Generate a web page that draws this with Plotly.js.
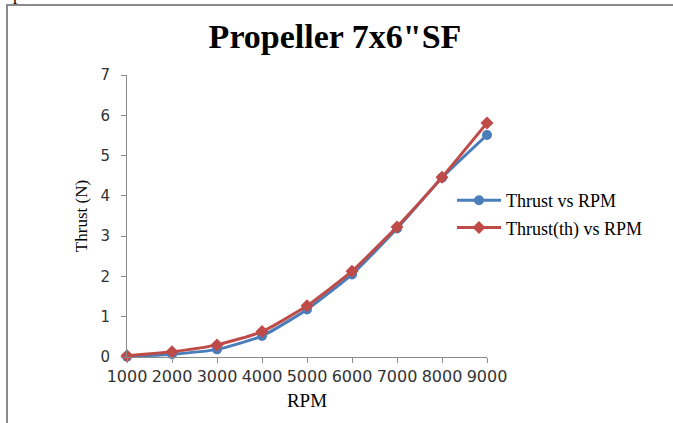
<!DOCTYPE html>
<html>
<head>
<meta charset="utf-8">
<script src="https://cdn.plot.ly/plotly-3.0.1.min.js"></script>
<style>
  html, body { margin: 0; padding: 0; background: #fff; }
  #chart { width: 673px; height: 423px; position: absolute; left: 0; top: 0; }
  #frame { position: absolute; left: 6px; top: 4px; width: 700px; height: 450px;
           border-left: 2px solid #8a8a8a; border-top: 2px solid #8a8a8a; pointer-events: none; }
  #pglyph { position: absolute; left: 13px; top: -15px; font: 17px "Liberation Serif", serif; color: #000; }
</style>
</head>
<body>
<div id="chart"></div>
<div id="frame"></div>
<div id="pglyph">p</div>
<script>
const rpm = [1000, 2000, 3000, 4000, 5000, 6000, 7000, 8000, 9000];
const xTickLabels = ["1000", "2000", "3000", "4000", "5000", "6000", "7000", "8000", "9000"];
const thrustMeasured = [0.01, 0.07, 0.19, 0.52, 1.18, 2.05, 3.19, 4.45, 5.51];
const thrustTheory = [0.03, 0.13, 0.30, 0.63, 1.27, 2.13, 3.23, 4.46, 5.81];
const yTicks = [0, 1, 2, 3, 4, 5, 6, 7];

const traces = [
  {
    x: rpm, y: thrustMeasured, name: "Thrust vs RPM", type: "scatter", mode: "lines+markers",
    line: { color: "#4A7EBB", width: 3, shape: "spline", smoothing: 0.5 },
    marker: { symbol: "circle", size: 10, color: "#4A7EBB" },
    cliponaxis: false, legendgroup: "a"
  },
  {
    x: rpm, y: thrustTheory, name: "Thrust(th) vs RPM", type: "scatter", mode: "lines+markers",
    line: { color: "#BE4B48", width: 3, shape: "spline", smoothing: 0.5 },
    marker: { symbol: "diamond", size: 10, color: "#BE4B48" },
    cliponaxis: false, legendgroup: "b"
  }
];

const layout = {
  width: 673, height: 423,
  margin: { l: 127, r: 186, t: 75, b: 66 },
  paper_bgcolor: "#fff", plot_bgcolor: "#fff",
  showlegend: true,
  title: {
    text: "<b>Propeller 7x6\"SF</b>",
    font: { family: "Liberation Serif, Times New Roman, serif", size: 34, color: "#000" },
    x: 335 / 673, xref: "container", xanchor: "center",
    y: 1 - 36 / 423, yref: "container", yanchor: "middle"
  },
  xaxis: {
    range: [1000, 9000], tickvals: rpm, ticktext: xTickLabels,
    showgrid: false, zeroline: false, showline: true, linecolor: "#8a8a8a", linewidth: 1,
    ticks: "outside", ticklen: 5, tickcolor: "#8a8a8a",
    tickfont: { family: "DejaVu Sans, sans-serif", size: 16, color: "#333" },
    fixedrange: true,
    title: { text: "RPM", font: { family: "Liberation Serif, serif", size: 19, color: "#000" }, standoff: 8 }
  },
  yaxis: {
    range: [0, 7], tickvals: yTicks,
    showgrid: false, zeroline: false, showline: true, linecolor: "#8a8a8a", linewidth: 1,
    ticks: "outside", ticklen: 5, tickcolor: "#8a8a8a",
    tickfont: { family: "DejaVu Sans, sans-serif", size: 15, color: "#333" },
    ticklabelstandoff: 8,
    fixedrange: true,
    title: { text: "Thrust (N)", font: { family: "Liberation Serif, serif", size: 17, color: "#000" }, standoff: 8 }
  },
  legend: {
    font: { family: "Liberation Serif, serif", size: 18, color: "#000" },
    bgcolor: "rgba(0,0,0,0)", borderwidth: 0,
    traceorder: "grouped", tracegroupgap: 1, itemwidth: 44,
    xanchor: "left", yanchor: "top"
  }
};
layout.legend.x = (452 - 127) / 360;
layout.legend.y = 1 - (182 - 75) / 282;

Plotly.newPlot("chart", traces, layout, { staticPlot: true, displayModeBar: false });
</script>
</body>
</html>
